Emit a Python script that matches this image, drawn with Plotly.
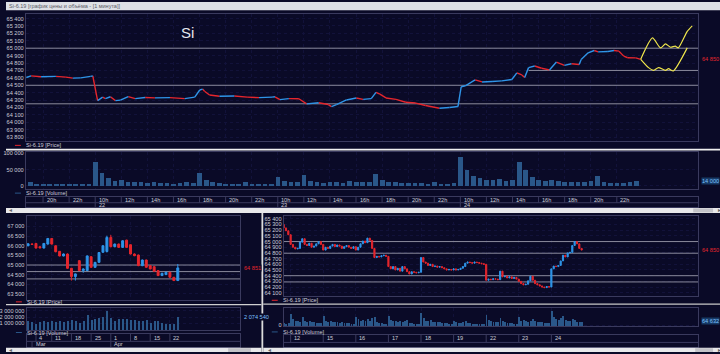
import plotly.graph_objects as go

W, H = 720, 354

# ===================== DATA =====================
# ---- top window: Si-6.19, 1-minute price (sessions 19, 22, 23, 24 April) ----
top_days = ["19", "22", "23", "24", "25"]
top_time = ["19 18:43", "19 19:05", "19 19:51", "19 20:59", "19 21:45", "19 22:17", "19 22:53", "19 23:39", "19 23:49",
            "22 10:11", "22 10:34", "22 10:47", "22 11:10", "22 11:33", "22 11:56", "22 12:32", "22 13:04", "22 13:50",
            "22 14:35", "22 15:44", "22 16:52", "22 17:38", "22 18:01", "22 18:14", "22 18:23", "22 18:46", "22 19:32",
            "22 20:40", "22 21:39", "22 22:34", "22 23:34", "22 23:47",
            "23 10:10", "23 10:51", "23 11:37", "23 12:13", "23 13:08", "23 13:53", "23 14:07", "23 14:30", "23 15:16",
            "23 16:01", "23 16:33", "23 17:10", "23 17:32", "23 17:50", "23 18:18", "23 19:04", "23 19:49", "23 20:35",
            "23 21:20", "23 22:24", "23 23:10", "23 23:49",
            "24 10:04", "24 10:23", "24 11:08", "24 11:40", "24 12:26", "24 13:11", "24 13:57", "24 14:20", "24 14:43",
            "24 14:56", "24 15:14", "24 15:42", "24 16:14", "24 16:50", "24 17:22", "24 17:59", "24 18:31", "24 19:07",
            "24 19:16", "24 19:48", "24 20:16", "24 20:34", "24 21:19", "24 21:47", "24 22:10", "24 22:32", "24 22:50",
            "24 23:27", "24 23:50"]
top_price = [64605, 64627, 64615, 64620, 64610, 64596, 64600, 64620, 64627,
             64293, 64340, 64320, 64345, 64293, 64300, 64347, 64320, 64335, 64330, 64333, 64320, 64340, 64436, 64449,
             64420, 64369, 64351, 64355, 64340, 64333, 64340, 64345,
             64307, 64320, 64318, 64249, 64265, 64240, 64213, 64240, 64302, 64329, 64310, 64320, 64404, 64380, 64329,
             64310, 64271, 64260, 64227, 64191, 64200, 64213,
             64480, 64493, 64573, 64545, 64550, 64560, 64578, 64667, 64640, 64604, 64738, 64760, 64730, 64707, 64813,
             64769, 64790, 64780, 64849, 64938, 64969, 64950, 64955, 64969, 64960, 64893, 64871, 64870, 64850]
top_levels = [65000, 64500, 64250]
top_partial_level = 64700
top_partial_level_from = "24 15:14"
fc_up_time = ["24 23:50", "25 10:44", "25 11:21", "25 11:44", "25 12:07", "25 12:29", "25 12:43", "25 13:24", "25 13:47"]
fc_up_price = [64850, 65138, 65004, 65058, 65013, 65027, 65004, 65227, 65302]
fc_dn_time = ["24 23:50", "25 10:26", "25 10:49", "25 11:12", "25 11:44", "25 11:58", "25 12:20", "25 13:24"]
fc_dn_price = [64850, 64738, 64702, 64738, 64702, 64724, 64693, 65004]
# volume, half-hour slots starting 19 Apr 19:00
vol_top_start = "19 19:00"
vol_top = [12, 6, 5, 6, 5, 5, 4, 4, 5, 6,
           72, 38, 24, 14, 18, 12, 10, 12, 9, 10, 7, 8, 6, 7, 10, 8, 38, 16, 10, 7, 6, 5, 5, 10, 5, 4, 5, 6,
           28, 14, 10, 12, 33, 15, 10, 9, 12, 10, 9, 14, 10, 12, 11, 37, 16, 10, 12, 8, 9, 7, 8, 6, 10, 6, 5, 7,
           88, 47, 30, 22, 18, 16, 20, 14, 18, 72, 48, 25, 18, 15, 16, 14, 12, 11, 10, 12, 14, 30, 10, 8, 7, 9, 11, 14]
vol_top = [v * 1000 for v in vol_top]
top_tick_day = ["19", "19"] + ["22"] * 7 + ["23"] * 7 + ["24"] * 7
top_tick_hour = [20, 22] + [10, 12, 14, 16, 18, 20, 22] * 3

# ---- bottom-left: daily candles ----
bl_dates = ["28.02", "01.03", "04.03", "05.03", "06.03", "07.03", "11.03", "12.03", "13.03", "14.03", "15.03",
            "18.03", "19.03", "20.03", "21.03", "22.03", "25.03", "26.03", "27.03", "28.03", "29.03",
            "01.04", "02.04", "03.04", "04.04", "05.04", "08.04", "09.04", "10.04", "11.04", "12.04",
            "15.04", "16.04", "17.04", "18.04", "19.04", "22.04", "23.04", "24.04"]
bl_open = [66000, 66090, 66120, 65950, 65880, 66086, 66378, 66000, 65710, 65470, 65570, 64830, 64400, 65226, 64710,
           64710, 65430, 64880, 65140, 65660, 65700, 66430, 65950, 66086, 65914, 66290, 66052, 65570, 65518, 64968,
           65260, 64968, 64916, 64710, 64452, 64504, 64624, 64366, 64194]
bl_high = [66130, 66110, 66140, 65970, 66140, 66400, 66400, 66020, 65720, 65600, 65600, 64850, 64560, 65250, 64830,
           65500, 65460, 65160, 65670, 66020, 66520, 66560, 66110, 66110, 66290, 66310, 66070, 65600, 65540, 65280,
           65280, 64990, 64940, 64730, 64590, 64640, 64640, 64380, 65054]
bl_low = [65970, 66050, 65860, 65870, 65860, 66060, 66060, 65660, 65450, 65450, 64800, 64194, 64194, 64690, 64600,
          64690, 64860, 64860, 65120, 65640, 65650, 65920, 65920, 65900, 65900, 65900, 65550, 65460, 64940, 64940,
          64860, 64780, 64660, 64430, 64440, 64490, 64350, 64180, 64180]
bl_close = [66100, 66070, 65880, 65890, 66120, 66378, 66086, 65690, 65470, 65570, 64830, 64400, 64540, 64710, 64796,
            65470, 64880, 65140, 65650, 66000, 66430, 65950, 66086, 65914, 66258, 65914, 65570, 65484, 64968, 65260,
            64882, 64796, 64676, 64452, 64572, 64624, 64366, 64194, 64851]
bl_volume = [1400000, 1240000, 970000, 1340000, 1510000, 1240000, 1400000, 1240000, 1400000, 1240000, 1510000,
             1610000, 1400000, 1080000, 1510000, 2470000, 1610000, 1770000, 1940000, 2150000, 3120000, 1940000,
             1510000, 1770000, 1770000, 1770000, 1610000, 1610000, 1510000, 1510000, 1610000, 1080000, 1510000,
             1400000, 1080000, 860000, 970000, 900000, 2074540]
bl_levels = [65000, 64660, 64280]
bl_week_ticks = ["04.03", "11.03", "18.03", "25.03", "01.04", "08.04", "15.04", "22.04"]
bl_month_ticks = [("01.03", "Mar"), ("01.04", "Apr")]

# ---- bottom-right: hourly candles 11-24 April ----
br_days = ["11", "12", "15", "16", "17", "18", "19", "22", "23", "24"]
br_first_hour = 21
br_first_open = 65300
br_close = [65240, 65190, 65120,
            64950, 64900, 64870, 64880, 64990, 65050, 64950, 64930, 64970, 64900, 64920, 64960, 65000, 64950,
            64850, 64900, 64880, 64920, 64950, 64910, 64940, 64920, 64880, 64910, 64930, 64900, 64880, 64910,
            64850, 64900, 64960, 65010, 64980, 65060, 65020, 64880, 64720, 64740, 64730, 64750, 64760, 64740,
            64560, 64520, 64560, 64500, 64530, 64480, 64560, 64520, 64470, 64430, 64470, 64460, 64450, 64460,
            64720, 64640, 64620, 64580, 64600, 64560, 64570, 64550, 64560, 64540, 64520, 64500, 64510, 64500,
            64520, 64500, 64510, 64530, 64560, 64620, 64640, 64630, 64620, 64640, 64630, 64620, 64610, 64600,
            64320, 64340, 64330, 64345, 64340, 64330, 64480, 64380, 64390, 64360, 64380, 64350, 64370, 64340,
            64300, 64260, 64240, 64250, 64310, 64390, 64320, 64260, 64240, 64220, 64200, 64190, 64210, 64200,
            64520, 64570, 64560, 64580, 64660, 64760, 64730, 64800, 64810, 64930, 65000, 64960, 64880, 64850]
br_volume = [40000, 35000, 45000,
             210000, 120000, 90000, 80000, 70000, 150000, 80000, 60000, 90000, 70000, 60000, 50000, 40000, 45000,
             180000, 90000, 70000, 80000, 60000, 60000, 70000, 50000, 60000, 40000, 50000, 40000, 30000, 35000,
             150000, 110000, 90000, 100000, 80000, 120000, 90000, 140000, 160000, 60000, 50000, 40000, 30000, 30000,
             170000, 100000, 90000, 80000, 70000, 90000, 60000, 80000, 100000, 50000, 40000, 30000, 30000, 30000,
             230000, 140000, 90000, 80000, 100000, 70000, 60000, 70000, 60000, 50000, 40000, 40000, 30000, 30000,
             90000, 60000, 50000, 50000, 60000, 90000, 50000, 40000, 30000, 30000, 25000, 20000, 20000, 20000,
             200000, 100000, 80000, 60000, 70000, 60000, 130000, 90000, 60000, 50000, 50000, 40000, 30000, 30000,
             150000, 90000, 100000, 80000, 70000, 90000, 110000, 80000, 70000, 60000, 70000, 50000, 40000, 40000,
             260000, 150000, 110000, 100000, 130000, 180000, 100000, 90000, 80000, 120000, 100000, 70000, 60000, 64632]
br_levels = [65000, 64795, 64400, 64290]

# ===================== STYLE =====================
FONT = "Liberation Sans"
TXT = "#cdcdd8"
BG = "#0a0a27"
FRAME = "#3a3a5e"
GRID = "#12123a"
LEVEL = "#8a8a9c"
RED = "#e5262d"
BLUE = "#2f95e8"
VOLC = "#2a5789"
YEL = "#efe64c"
FS = 5.6


def sess(s):
    d, hm = s.split()
    h, m = hm.split(":")
    return top_days.index(d) * 14 + int(h) - 10 + int(m) / 60


def fmt(v):
    return f"{int(round(v)):,}".replace(",", " ")


def xd(a, b):
    return [a / W, b / W]


def yd(top, bottom):
    return [1 - bottom / H, 1 - top / H]


fig = go.Figure()

# ---- top price (coloured segments) ----
tt = [sess(s) for s in top_time]
ux, uy, dx_, dy_ = [], [], [], []
for i in range(1, len(tt)):
    if top_price[i] >= top_price[i - 1]:
        ux += [tt[i - 1], tt[i], None]; uy += [top_price[i - 1], top_price[i], None]
    else:
        dx_ += [tt[i - 1], tt[i], None]; dy_ += [top_price[i - 1], top_price[i], None]
fig.add_trace(go.Scatter(x=dx_, y=dy_, mode="lines", line=dict(color=RED, width=1.4), xaxis="x", yaxis="y"))
fig.add_trace(go.Scatter(x=ux, y=uy, mode="lines", line=dict(color=BLUE, width=1.4), xaxis="x", yaxis="y"))
fig.add_trace(go.Scatter(x=[sess(s) for s in fc_up_time], y=fc_up_price, mode="lines",
                         line=dict(color=YEL, width=1.2, shape="spline", smoothing=0.6), xaxis="x", yaxis="y"))
fig.add_trace(go.Scatter(x=[sess(s) for s in fc_dn_time], y=fc_dn_price, mode="lines",
                         line=dict(color=YEL, width=1.2, shape="spline", smoothing=0.6), xaxis="x", yaxis="y"))

# ---- top volume ----
v0 = sess(vol_top_start)
fig.add_trace(go.Bar(x=[v0 + 0.5 * i for i in range(len(vol_top))], y=vol_top, width=0.36,
                     marker=dict(color=VOLC, line=dict(width=0)), xaxis="x2", yaxis="y3"))

# ---- bottom-left daily ----
bl_x = list(range(len(bl_dates)))
fig.add_trace(go.Candlestick(x=bl_x, open=bl_open, high=bl_high, low=bl_low, close=bl_close,
                             increasing=dict(line=dict(color=BLUE, width=1), fillcolor=BLUE),
                             decreasing=dict(line=dict(color=RED, width=1), fillcolor=RED),
                             whiskerwidth=0, xaxis="x4", yaxis="y6"))
fig.add_trace(go.Bar(x=bl_x, y=bl_volume, width=0.3, marker=dict(color=VOLC, line=dict(width=0)),
                     xaxis="x5", yaxis="y8"))

# ---- bottom-right hourly ----
br_t = []
for di, d in enumerate(br_days):
    for h in range(10, 24):
        if di == 0 and h < br_first_hour:
            continue
        br_t.append(di * 14 + h - 10)
br_open = [br_first_open] + br_close[:-1]
br_high = [max(o, c) for o, c in zip(br_open, br_close)]
br_low = [min(o, c) for o, c in zip(br_open, br_close)]
fig.add_trace(go.Candlestick(x=br_t, open=br_open, high=br_high, low=br_low, close=br_close,
                             increasing=dict(line=dict(color=BLUE, width=1), fillcolor=BLUE),
                             decreasing=dict(line=dict(color=RED, width=1), fillcolor=RED),
                             whiskerwidth=0, xaxis="x7", yaxis="y11"))
fig.add_trace(go.Bar(x=br_t, y=br_volume, width=0.4, marker=dict(color=VOLC, line=dict(width=0)),
                     xaxis="x8", yaxis="y13"))

# ===================== AXES =====================
TOPX, BLX, BRX = xd(20, 698), xd(20.7, 236), xd(280, 698.3)
top_range = [8.68, 60.24]
bl_range = [-0.4, 53.8]
br_range = [11.0, 189.2]
top_tick_t = [top_days.index(d) * 14 + h - 10 for d, h in zip(top_tick_day, top_tick_hour)]
bl_week_idx = [bl_dates.index(d) for d in bl_week_ticks]
br_tick_t = [i * 14 for i in range(1, len(br_days))]

tickfont = dict(family=FONT, size=FS, color=TXT)


def xax(domain, rng, anchor, tickvals=(), grid=True):
    return dict(domain=domain, range=rng, anchor=anchor, tickvals=list(tickvals), showticklabels=False,
                showgrid=grid, gridcolor=GRID, griddash="dot", gridwidth=1, zeroline=False, ticks="",
                showline=True, mirror=True, linecolor=FRAME, linewidth=1, fixedrange=True,
                rangeslider=dict(visible=False))


def yax(domain, rng, anchor, tickvals=(), grid=True):
    return dict(domain=domain, range=rng, anchor=anchor, tickvals=list(tickvals), tickformat=",d",
                tickfont=tickfont, showgrid=grid, gridcolor=GRID, griddash="dot", zeroline=False, ticks="",
                showline=True, mirror=True, linecolor=FRAME, linewidth=1, side="left")


def yright(over, rng, anchor, tickvals=()):
    return dict(overlaying=over, range=rng, anchor=anchor, side="right", tickvals=list(tickvals),
                tickformat=",d", tickfont=tickfont, showgrid=False, zeroline=False, ticks="", showline=False)


top_prange = [63743, 65467]
top_pticks = list(range(63800, 65401, 100))
top_vrange = [-9000, 103000]
top_vticks = [0, 50000, 100000]
bl_prange = [63208, 67564]
bl_pticks = list(range(63500, 67001, 500))
bl_vrange = [-160000, 3550000]
bl_vticks = [1000000, 2000000, 3000000]
br_prange = [64037, 65457]
br_pticks = list(range(64100, 65401, 100))
br_vrange = [-23000, 318000]

layout = dict(
    width=W, height=H, margin=dict(l=0, r=0, t=0, b=0), paper_bgcolor=BG, plot_bgcolor=BG,
    showlegend=False, separators=", ", font=dict(family=FONT, size=FS, color=TXT), bargap=0,
    xaxis=xax(TOPX, top_range, "y", top_tick_t),
    yaxis=yax(yd(11.7, 141), top_prange, "x", top_pticks),
    yaxis2=yright("y", top_prange, "x", top_pticks),
    xaxis2=xax(TOPX, top_range, "y3", top_tick_t),
    yaxis3=yax(yd(152, 189), top_vrange, "x2", top_vticks),
    yaxis4=yright("y3", top_vrange, "x2", top_vticks),
    xaxis3=xax(TOPX, top_range, "y5", grid=False),
    yaxis5=dict(domain=yd(197.3, 207.7), range=[0, 1], anchor="x3", showticklabels=False, showgrid=False,
                zeroline=False, showline=True, mirror=True, linecolor=FRAME),
    xaxis4=xax(BLX, bl_range, "y6", bl_week_idx),
    yaxis6=yax(yd(216, 301), bl_prange, "x4", bl_pticks),
    yaxis7=yright("y6", bl_prange, "x4", bl_pticks),
    xaxis5=xax(BLX, bl_range, "y8", bl_week_idx),
    yaxis8=yax(yd(309, 332), bl_vrange, "x5", bl_vticks),
    yaxis9=yright("y8", bl_vrange, "x5", [1000000, 3000000]),
    xaxis6=xax(BLX, bl_range, "y10", grid=False),
    yaxis10=dict(domain=yd(335.5, 349.3), range=[0, 1], anchor="x6", showticklabels=False, showgrid=False,
                 zeroline=False, showline=True, mirror=True, linecolor=FRAME),
    xaxis7=xax(BRX, br_range, "y11", br_tick_t),
    yaxis11=yax(yd(216, 297.7), br_prange, "x7", br_pticks),
    yaxis12=yright("y11", br_prange, "x7", br_pticks),
    xaxis8=xax(BRX, br_range, "y13", br_tick_t),
    yaxis13=yax(yd(309, 328), br_vrange, "x8", [0]),
    yaxis14=yright("y13", br_vrange, "x8", []),
    xaxis9=xax(BRX, br_range, "y15", grid=False),
    yaxis15=dict(domain=yd(336.7, 349), range=[0, 1], anchor="x9", showticklabels=False, showgrid=False,
                 zeroline=False, showline=True, mirror=True, linecolor=FRAME),
)
fig.update_layout(**layout)

shapes, ann = [], []


def prect(x0, y0, x1, y1, color, layer="above"):
    shapes.append(dict(type="rect", xref="paper", yref="paper", x0=x0 / W, x1=x1 / W, y0=1 - y1 / H,
                       y1=1 - y0 / H, fillcolor=color, line=dict(width=0), layer=layer))


def ptext(x, y, text, color=TXT, size=FS, anchor="left", bg=None):
    a = dict(xref="paper", yref="paper", x=x / W, y=1 - y / H, text=text, showarrow=False, xanchor=anchor,
             yanchor="middle", font=dict(family=FONT, size=size, color=color))
    if bg:
        a["bgcolor"] = bg
    ann.append(a)


# level lines (between grid and traces)
for lv in top_levels:
    shapes.append(dict(type="line", xref="x", yref="y", x0=top_range[0], x1=top_range[1], y0=lv, y1=lv,
                       line=dict(color=LEVEL, width=1), layer="between"))
shapes.append(dict(type="line", xref="x", yref="y", x0=sess(top_partial_level_from), x1=top_range[1],
                   y0=top_partial_level, y1=top_partial_level, line=dict(color=LEVEL, width=1), layer="between"))
for lv in bl_levels:
    shapes.append(dict(type="line", xref="x4", yref="y6", x0=bl_range[0], x1=bl_range[1], y0=lv, y1=lv,
                       line=dict(color=LEVEL, width=1), layer="between"))
for lv in br_levels:
    shapes.append(dict(type="line", xref="x7", yref="y11", x0=br_range[0], x1=br_range[1], y0=lv, y1=lv,
                       line=dict(color=LEVEL, width=1), layer="between"))


# time boxes
def time_box(xref, yref, ticks, labels, sub_ticks, sub_labels, mid, y_lab, y_sub, xr):
    shapes.append(dict(type="line", xref=xref, yref=yref, x0=xr[0], x1=xr[1], y0=mid, y1=mid,
                       line=dict(color=FRAME, width=1)))
    for t, lab in zip(ticks, labels):
        shapes.append(dict(type="line", xref=xref, yref=yref, x0=t, x1=t, y0=mid, y1=1,
                           line=dict(color=FRAME, width=1)))
        ann.append(dict(xref=xref, yref=yref, x=t, y=y_lab, text=lab, showarrow=False, xanchor="left",
                        xshift=1.5, yanchor="middle", font=dict(family=FONT, size=FS, color=TXT)))
    for t, lab in zip(sub_ticks, sub_labels):
        shapes.append(dict(type="line", xref=xref, yref=yref, x0=t, x1=t, y0=0, y1=mid,
                           line=dict(color=FRAME, width=1)))
        ann.append(dict(xref=xref, yref=yref, x=t, y=y_sub, text=lab, showarrow=False, xanchor="left",
                        xshift=1.5, yanchor="middle", font=dict(family=FONT, size=FS, color=TXT)))


top_day_ticks = [t for t, h in zip(top_tick_t, top_tick_hour) if h == 10]
top_day_labels = [d for d, h in zip(top_tick_day, top_tick_hour) if h == 10]
time_box("x3", "y5", top_tick_t, [f"{h}h" for h in top_tick_hour], top_day_ticks, top_day_labels,
         0.45, 0.74, 0.2, top_range)
time_box("x6", "y10", bl_week_idx, [str(int(d.split(".")[0])) for d in bl_week_ticks],
         [bl_dates.index(d) for d, _ in bl_month_ticks], [m for _, m in bl_month_ticks], 0.44, 0.65, 0.24, bl_range)
time_box("x9", "y15", br_tick_t, br_days[1:], [], [], 0.38, 0.71, 0.2, br_range)

# chrome: title bar, separators, scrollbars
prect(0, 0, 720, 8.3, "#dde0e5")
ptext(1, 4.2, "Si-6.19 [график цены и объёма - [1 минута]]", color="#5a5a66", size=5.5)
prect(0, 148.4, 720, 150.2, "#f0f0f0")
prect(0, 208.3, 720, 213.3, "#e8e8ea")
prect(693, 208.8, 713, 212.8, "#c3c3c8")
ptext(1.5, 210.8, "◂", color="#666", size=6)
ptext(716, 210.8, "▸", color="#666", size=6)
prect(257.6, 213.3, 259.4, 354, "#dcdcdc")
prect(0, 305.4, 257.6, 306.7, "#d0d0d0")
prect(259.4, 305, 720, 306.3, "#c8c8c8")
prect(0, 349.6, 257.6, 354, "#e8e8ea")
prect(259.4, 349.6, 720, 354, "#e8e8ea")
prect(224, 350.2, 247, 354, "#c3c3c8")
prect(695, 350.2, 713, 354, "#c3c3c8")
ptext(1.5, 352, "◂", color="#666", size=6)
ptext(262, 352, "◂", color="#666", size=6)
ptext(716, 352, "▸", color="#666", size=6)


# legends
def legend(x, y, text, color):
    shapes.append(dict(type="line", xref="paper", yref="paper", x0=x / W, x1=(x + 6) / W, y0=1 - y / H,
                       y1=1 - y / H, line=dict(color=color, width=1)))
    ptext(x + 9, y, text)


legend(9, 145, "Si-6.19 [Price]", RED)
legend(9, 193.3, "Si-6.19 [Volume]", VOLC)
legend(10, 303.3, "Si-6.19 [Price]", RED)
legend(10, 334.3, "Si-6.19 [Volume]", VOLC)
legend(268, 301.7, "Si-6.19 [Price]", RED)
legend(268, 333.7, "Si-6.19 [Volume]", VOLC)

# instrument caption
ptext(183, 31, "Si", color="#e6e6ee", size=15, anchor="center")


# current value markers
def marker(x, yref, y, text, color, bg):
    ann.append(dict(xref="paper", yref=yref, x=x / W, y=y, text=text, showarrow=False, xanchor="left",
                    yanchor="middle", font=dict(family=FONT, size=FS, color=color), bgcolor=bg, borderpad=0))


marker(700.5, "y", top_price[-1], fmt(top_price[-1]), RED, BG)
marker(700.5, "y3", vol_top[-1], fmt(vol_top[-1]), "#7cc0ff", "#173a66")
marker(238.5, "y6", bl_close[-1], fmt(bl_close[-1]), RED, BG)
marker(238.5, "y8", bl_volume[-1], fmt(bl_volume[-1]), "#7cc0ff", BG)
marker(700.5, "y11", br_close[-1], fmt(br_close[-1]), RED, BG)
marker(700.5, "y13", br_volume[-1], fmt(br_volume[-1]), "#7cc0ff", "#173a66")

fig.update_layout(shapes=shapes, annotations=ann)
fig.write_html("out.html")
